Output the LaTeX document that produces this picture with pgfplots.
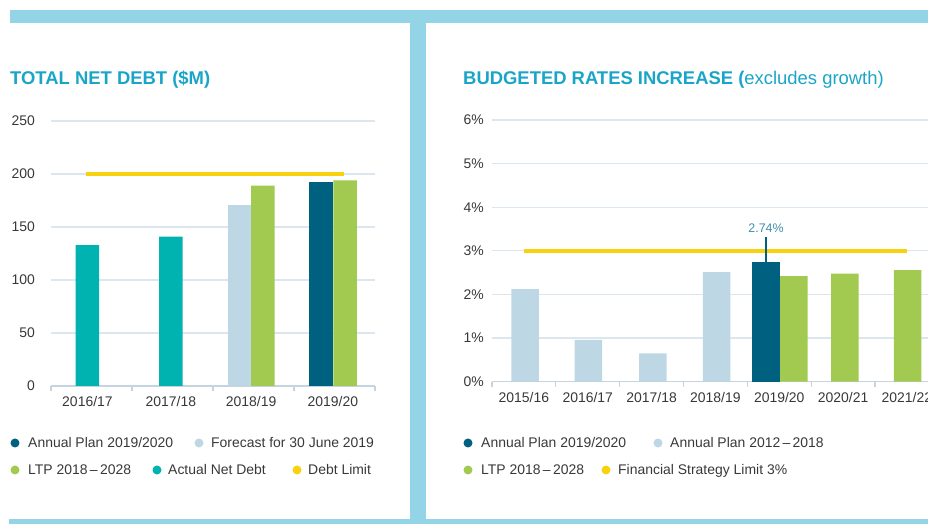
\documentclass[border=0pt]{standalone}
\usepackage{fontspec}
\setmainfont{Liberation Sans}
\usepackage{pgfplots}
\pgfplotsset{compat=1.18}
\definecolor{frame}{HTML}{93D5E6}
\definecolor{ttl}{HTML}{1AA5C8}
\definecolor{dkblue}{HTML}{00607F}
\definecolor{ltblue}{HTML}{BDD7E5}
\definecolor{lgreen}{HTML}{A2CA50}
\definecolor{cteal}{HTML}{00B3B0}
\definecolor{cyellow}{HTML}{F8D20F}
\definecolor{gridc}{HTML}{DCE6EE}
\definecolor{axc}{HTML}{C5D4DF}
\definecolor{txt}{HTML}{383838}
\definecolor{annot}{HTML}{3D8FAB}
\pgfplotsset{
  mystyle/.style={
    scale only axis,
    axis x line*=bottom, axis y line*=left,
    y axis line style={draw=none},
    x axis line style={draw=axc, line width=1.2bp, -},
    ymajorgrids,
    grid style={draw=gridc, line width=1.2bp},
    ytick style={draw=none},
    xtick style={draw=none},
    extra x tick style={grid=none, major tick length=5bp, tick align=outside,
      xtick style={draw=axc, line width=1.2bp}},
    extra x tick labels={},
    tick label style={font=\fontsize{14}{16}\selectfont, text=txt},
    xticklabel style={anchor=north, inner sep=0pt, yshift=-10bp},
    /pgf/number format/assume math mode=true,
    clip=false,
  }
}
\begin{document}
\begin{tikzpicture}
\path[use as bounding box] (0,0) rectangle (928bp,524bp);
\clip (0,0) rectangle (928bp,524bp);

% ---------- Left chart: total net debt ----------
\begin{axis}[mystyle,
  at={(51bp,138bp)}, anchor=south west,
  width=324bp, height=265bp,
  xmin=-0.5, xmax=3.5, ymin=0, ymax=250,
  ytick={0,50,...,250},
  yticklabel style={anchor=east, inner sep=0pt, xshift=-16bp},
  xtick={-0.05,0.98,1.97,2.98},
  xticklabels={2016/17,2017/18,2018/19,2019/20},
  extra x ticks={-0.5,0.5,1.5,2.5,3.5},
]
\addplot[ybar, bar width=23.5bp, bar shift=0pt, fill=cteal, draw=none]
  coordinates {(-0.05,133) (0.98,141)};
\addplot[ybar, bar width=23.5bp, bar shift=0pt, fill=ltblue, draw=none]
  coordinates {(1.827,171)};
\addplot[ybar, bar width=23.5bp, bar shift=0pt, fill=lgreen, draw=none]
  coordinates {(2.117,189) (3.13,194)};
\addplot[ybar, bar width=23.5bp, bar shift=0pt, fill=dkblue, draw=none]
  coordinates {(2.833,192)};
\addplot[cyellow, line width=4bp] coordinates {(-0.07,200) (3.12,200)};
\end{axis}

% ---------- Right chart: budgeted rates increase ----------
\begin{axis}[mystyle,
  at={(492bp,142.3bp)}, anchor=south west,
  width=446.8bp, height=261.7bp,
  xmin=-0.5, xmax=6.5, ymin=0, ymax=6,
  ytick={0,1,...,6},
  yticklabels={0\%,1\%,2\%,3\%,4\%,5\%,6\%},
  yticklabel style={anchor=east, inner sep=0pt, xshift=-8bp},
  xtick={0,1,...,6},
  xticklabels={2015/16,2016/17,2017/18,2018/19,2019/20,2020/21,2021/22},
  extra x ticks={-0.5,0.5,1.5,2.5,3.5,4.5,5.5,6.5},
]
\addplot[ybar, bar width=27.5bp, bar shift=0pt, fill=ltblue, draw=none]
  coordinates {(0.02,2.12) (1.01,0.96) (2.02,0.65) (3.02,2.51)};
\addplot[ybar, bar width=27.5bp, bar shift=0pt, fill=dkblue, draw=none]
  coordinates {(3.793,2.74)};
\addplot[ybar, bar width=27.5bp, bar shift=0pt, fill=lgreen, draw=none]
  coordinates {(4.231,2.42) (5.03,2.48) (6.01,2.56)};
\addplot[cyellow, line width=4bp] coordinates {(0,3) (6,3)};
\draw[dkblue, line width=1.5bp] (axis cs:3.793,2.74) -- (axis cs:3.793,3.32);
\node[anchor=base, inner sep=0pt, text=annot, font=\fontsize{12.5}{14}\selectfont]
  at (axis cs:3.793,3.41) {2.74\%};
\end{axis}

% ---------- Titles ----------
\node[anchor=base west, inner sep=0pt, text=ttl, font=\fontsize{18.5}{20}\selectfont\bfseries]
  at (10bp,439bp) {TOTAL NET DEBT (\$M)};
\node[anchor=base west, inner sep=0pt, text=ttl, font=\fontsize{18.5}{20}\selectfont]
  at (463bp,439bp) {\textbf{BUDGETED RATES INCREASE (}excludes growth)};

% ---------- Legends ----------
\begin{scope}[every node/.style={anchor=base west, inner sep=0pt, text=txt, font=\fontsize{14}{16}\selectfont}]
\fill[dkblue] (15bp,81bp) circle (4.5bp);  \node at (28bp,76bp) {Annual Plan 2019/2020};
\fill[ltblue] (199bp,81bp) circle (4.5bp); \node at (211bp,76bp) {Forecast for 30 June 2019};
\fill[lgreen] (15bp,54bp) circle (4.5bp);  \node at (28bp,49bp) {LTP 2018\,–\,2028};
\fill[cteal] (157bp,54bp) circle (4.5bp);  \node at (168bp,49bp) {Actual Net Debt};
\fill[cyellow] (297bp,54bp) circle (4.5bp); \node at (308bp,49bp) {Debt Limit};

\fill[dkblue] (468bp,81bp) circle (4.5bp); \node at (481bp,76bp) {Annual Plan 2019/2020};
\fill[ltblue] (658bp,81bp) circle (4.5bp); \node at (670bp,76bp) {Annual Plan 2012\,–\,2018};
\fill[lgreen] (468bp,54bp) circle (4.5bp); \node at (481bp,49bp) {LTP 2018\,–\,2028};
\fill[cyellow] (606bp,54bp) circle (4.5bp); \node at (618bp,49bp) {Financial Strategy Limit 3\%};
\end{scope}

% ---------- Frame bands ----------
\fill[frame] (10bp,501bp) rectangle (928bp,514bp);
\fill[frame] (410bp,0bp) rectangle (426bp,514bp);
\fill[frame] (9bp,0bp) rectangle (928bp,5bp);
\end{tikzpicture}
\end{document}
